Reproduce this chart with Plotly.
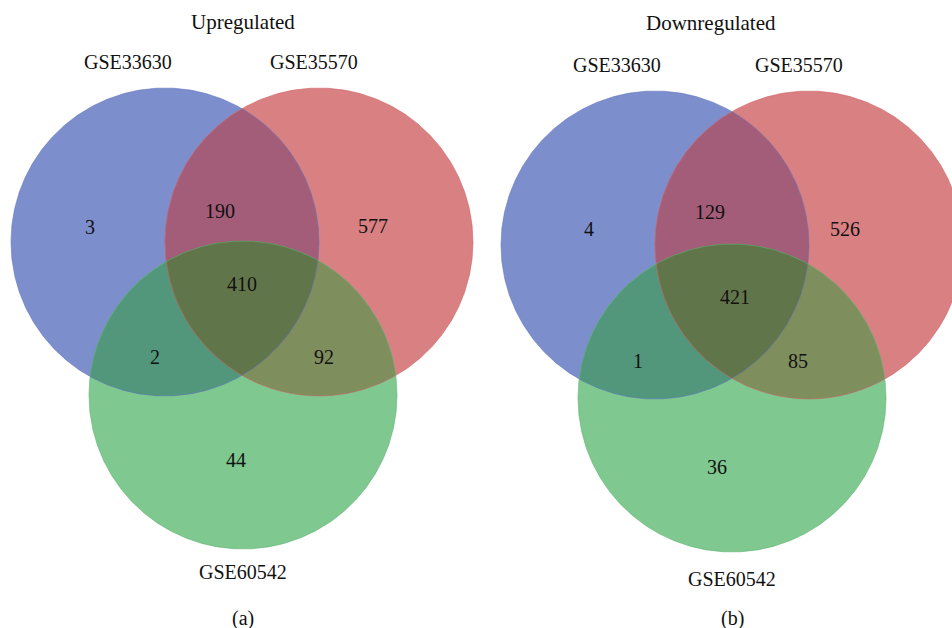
import numpy as np
import plotly.graph_objects as go

# ---- data -------------------------------------------------------------
set_names = ["GSE33630", "GSE35570", "GSE60542"]
panel_titles = ["Upregulated", "Downregulated"]
panel_tags = ["(a)", "(b)"]
region_keys = ["A", "B", "C", "AB", "AC", "BC", "ABC"]
up_counts = [3, 577, 44, 190, 2, 92, 410]
down_counts = [4, 526, 36, 129, 1, 85, 421]

# ---- layout (pixel coordinates, y downwards) --------------------------
W, H = 952, 628
R = 154
panels = [
    dict(centers={"A": (165, 242), "B": (319, 242), "C": (243, 395)},
         title=(243, 22), tag=(243, 618),
         names=[(128, 62), (314, 62), (243, 572)],
         counts={"A": (90, 227), "B": (373, 226), "C": (236, 460),
                 "AB": (220, 211), "AC": (155, 357), "BC": (324, 357),
                 "ABC": (242, 284)}),
    dict(centers={"A": (655, 245), "B": (809, 245), "C": (732, 398)},
         title=(711, 23), tag=(732, 618),
         names=[(617, 65), (799, 65), (732, 579)],
         counts={"A": (589, 229), "B": (845, 229), "C": (717, 467),
                 "AB": (710, 212), "AC": (638, 361), "BC": (798, 361),
                 "ABC": (735, 297)}),
]

region_colors = {
    "A": "rgb(125,142,204)",
    "B": "rgb(217,128,130)",
    "C": "rgb(127,200,144)",
    "AB": "rgb(163,93,121)",
    "AC": "rgb(82,151,123)",
    "BC": "rgb(127,142,93)",
    "ABC": "rgb(97,117,74)",
}
edge_colors = {
    "A": "rgba(95,115,190,0.55)",
    "B": "rgba(205,95,100,0.55)",
    "C": "rgba(90,175,105,0.55)",
}

FONT = "Liberation Serif, Times New Roman, serif"


def region_polygon(centers, keys, n=720):
    """Boundary of the intersection of the circles named in keys."""
    pts = []
    t = np.linspace(0, 2 * np.pi, n, endpoint=False)
    for k in keys:
        cx, cy = centers[k]
        px = cx + R * np.cos(t)
        py = cy + R * np.sin(t)
        inside = np.ones(n, dtype=bool)
        for o in keys:
            if o == k:
                continue
            ox, oy = centers[o]
            inside &= (px - ox) ** 2 + (py - oy) ** 2 <= R ** 2 + 1e-6
        pts.extend(zip(px[inside], py[inside]))
    pts = np.array(pts)
    mx, my = pts.mean(axis=0)
    order = np.argsort(np.arctan2(pts[:, 1] - my, pts[:, 0] - mx))
    pts = pts[order]
    return np.r_[pts[:, 0], pts[0, 0]], np.r_[pts[:, 1], pts[0, 1]]


fig = go.Figure()
annotations = []

for p, counts, title, tag in zip(panels, [up_counts, down_counts], panel_titles, panel_tags):
    c = p["centers"]
    # single circles, then pairwise lenses, then the triple region on top
    for keys in ["A", "B", "C", "AB", "AC", "BC", "ABC"]:
        xs, ys = region_polygon(c, list(keys))
        fig.add_trace(go.Scatter(x=xs, y=ys, mode="lines", fill="toself",
                                 fillcolor=region_colors[keys],
                                 line=dict(width=0), hoverinfo="skip",
                                 showlegend=False))
    # circle outlines
    t = np.linspace(0, 2 * np.pi, 721)
    for k in "ABC":
        cx, cy = c[k]
        fig.add_trace(go.Scatter(x=cx + R * np.cos(t), y=cy + R * np.sin(t),
                                 mode="lines", line=dict(color=edge_colors[k], width=1),
                                 hoverinfo="skip", showlegend=False))

    def label(xy, text, size=20):
        annotations.append(dict(x=xy[0], y=xy[1], text=text, showarrow=False,
                                xref="x", yref="y", xanchor="center", yanchor="middle",
                                font=dict(family=FONT, size=size, color="#111111")))

    label(p["title"], title, 21)
    label(p["tag"], tag)
    for xy, name in zip(p["names"], set_names):
        label(xy, name)
    for key, val in zip(region_keys, counts):
        label(p["counts"][key], str(val))

fig.update_layout(
    width=W, height=H,
    margin=dict(l=0, r=0, t=0, b=0),
    paper_bgcolor="white", plot_bgcolor="white",
    xaxis=dict(range=[0, W], visible=False, fixedrange=True),
    yaxis=dict(range=[H, 0], visible=False, fixedrange=True),
    annotations=annotations,
)

fig.write_html("out.html")
